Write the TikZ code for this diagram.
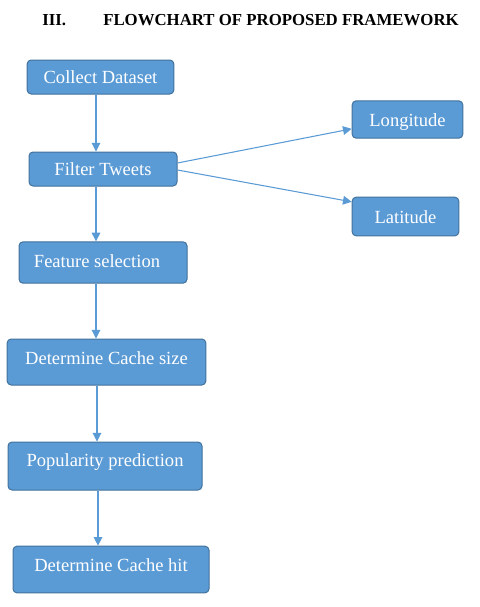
\documentclass[tikz,border=0pt]{standalone}
\usepackage{fontspec}
\setmainfont{Liberation Serif}
\usetikzlibrary{arrows.meta,positioning,calc}
\definecolor{boxblue}{HTML}{5B9BD5}
\definecolor{boxedge}{HTML}{41719C}
\tikzset{
  >=Stealth,
  stage/.style={rectangle, draw=boxedge, line width=0.75pt, fill=boxblue, rounded corners=3pt,
    text=white, font=\fontsize{13.9}{16}\selectfont, inner sep=0pt, text height=10pt, text depth=0pt},
  flow/.style={-{Triangle[length=6.5pt,width=6.5pt]}, draw=boxblue, line width=0.8pt},
  ttl/.style={font=\fontsize{12.6}{15}\selectfont\bfseries, anchor=base west, inner sep=0pt}
}
\begin{document}
\begin{tikzpicture}[x=0.75pt,y=-0.75pt]
    \useasboundingbox (0,0) rectangle (479,607);

    % === Heading ===
    \node[ttl] (secnum) at (42,25) {III.};
    \node[ttl] (sectitle) at (103,25) {FLOWCHART OF PROPOSED FRAMEWORK};

    % === Main column ===
    \node[stage, minimum width=110pt, minimum height=25.5pt] (collect) at (100.5,77) {Collect Dataset};
    \node[stage, minimum width=111pt, minimum height=25.5pt] (filter) at (103,169) {Filter Tweets};
    \node[stage, minimum width=126pt, minimum height=31pt, text depth=2pt] (feature) at (103,262.5) {\hspace{-9pt}Feature selection};
    \node[stage, minimum width=149pt, minimum height=34.5pt, text depth=6pt] (cachesize) at (106.5,362) {Determine Cache size};
    \node[stage, minimum width=145.5pt, minimum height=36pt, text depth=9pt] (popular) at (105,466) {Popularity prediction};
    \node[stage, minimum width=147pt, minimum height=35pt, text depth=7pt] (cachehit) at (111,569.5) {Determine Cache hit};

    % === Side boxes ===
    \node[stage, minimum width=83pt, minimum height=28pt] (longitude) at (407.5,119.5) {Longitude};
    \node[stage, minimum width=80pt, minimum height=29pt] (latitude) at (405.5,216.5) {Latitude};

    % === Connectors ===
    \coordinate (spine) at (96,0);
    \draw[flow] (collect.south -| spine) -- (filter.north -| spine);
    \draw[flow] (filter.south -| spine) -- (feature.north -| spine);
    \draw[flow] (feature.south -| spine) -- (cachesize.north -| spine);
    \draw[flow] ([xshift=0.75pt]cachesize.south -| spine) -- ([xshift=0.75pt]popular.north -| spine);
    \draw[flow] ([xshift=1.5pt]popular.south -| spine) -- ([xshift=1.5pt]cachehit.north -| spine);
    \draw[flow] ([yshift=4.5pt]filter.east) -- ([yshift=-7pt]longitude.west);
    \draw[flow] ([yshift=-0.75pt]filter.east) -- ([yshift=11pt]latitude.west);

\end{tikzpicture}
\end{document}
